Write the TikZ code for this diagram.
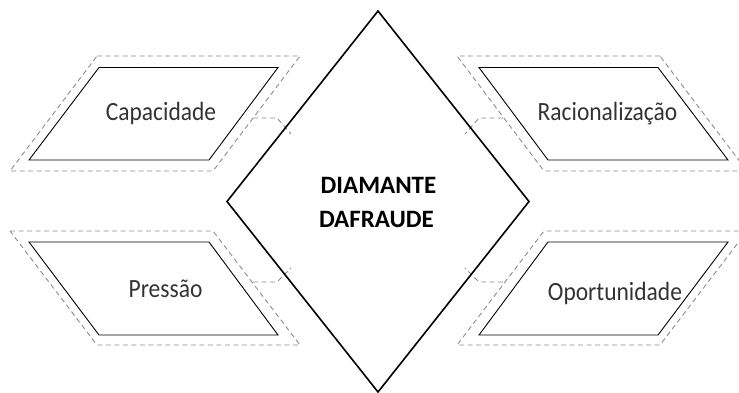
\documentclass[tikz,border=0pt]{standalone}
\usepackage{fontspec}
\setmainfont{Carlito}
\newcommand{\tallText}[1]{\scalebox{1}[1.12]{#1}}
\begin{document}
\begin{tikzpicture}[x=1pt,y=-1pt,
  box/.style={draw=black, line width=0.9pt, line join=miter},
  halo/.style={draw=black!45, dash pattern=on 5pt off 3.5pt, line width=0.9pt},
  link/.style={draw=black!45, dash pattern=on 5pt off 3.5pt, line width=0.9pt},
  gem/.style={draw=black, line width=1.6pt, line join=miter},
  lbl/.style={anchor=base, inner sep=0pt, font=\fontsize{23.5}{28}\selectfont, text=black!80},
  title/.style={anchor=base, inner sep=0pt, font=\fontsize{25}{30}\selectfont\bfseries, text=black},
]
\useasboundingbox (0,0) rectangle (739,392);
\clip (0,0) rectangle (739,392);

% central diamond
\coordinate (gT) at (378,11);
\coordinate (gR) at (529,201.5);
\coordinate (gB) at (378,392);
\coordinate (gL) at (227,201.5);

% ---- Capacidade (top left)
\draw[halo] (97,56) -- (300,56) -- (213,171) -- (10,171) -- cycle;
\draw[box] (99,67.5) -- (278,67.5) -- (209,160) -- (29,160) -- cycle;
\node[lbl] (cap) at (161,120) {\tallText{Capacidade}};
\coordinate (capA) at (253,118);
\coordinate (capB) at (277,118);
\coordinate (capC) at (291,134);

% ---- Racionalização (top right)
\draw[halo] (660,56) -- (457,56) -- (544,171) -- (747,171) -- cycle;
\draw[box] (658,67.5) -- (479,67.5) -- (548,160) -- (728,160) -- cycle;
\node[lbl] (rac) at (607.5,120) {\tallText{Racionalização}};
\coordinate (racA) at (503,118);
\coordinate (racB) at (479,118);
\coordinate (racC) at (465,134);

% ---- Pressão (bottom left)
\draw[halo] (10,231) -- (213,231) -- (300,345) -- (97,345) -- cycle;
\draw[box] (29,242) -- (209,242) -- (278,335) -- (99,335) -- cycle;
\node[lbl] (pre) at (165.5,297) {\tallText{Pressão}};
\coordinate (preA) at (253,282);
\coordinate (preB) at (277,282);
\coordinate (preC) at (291,268);

% ---- Oportunidade (bottom right)
\draw[halo] (747,231) -- (544,231) -- (457,345) -- (660,345) -- cycle;
\draw[box] (728,242) -- (548,242) -- (479,335) -- (658,335) -- cycle;
\node[lbl] (opo) at (615,300) {\tallText{Oportunidade}};
\coordinate (opoA) at (503,282);
\coordinate (opoB) at (479,282);
\coordinate (opoC) at (465,268);

% dashed connectors towards the diamond
\draw[link] (capA) -- (capB) -- (capC);
\draw[link] (racA) -- (racB) -- (racC);
\draw[link] (preA) -- (preB) -- (preC);
\draw[link] (opoA) -- (opoB) -- (opoC);

% diamond outline and title
\draw[gem] (gT) -- (gR) -- (gB) -- (gL) -- cycle;
\node[title] (t1) at (378.5,193) {DIAMANTE};
\node[title] (t2) at (376.5,227) {DAFRAUDE};
\end{tikzpicture}
\end{document}
